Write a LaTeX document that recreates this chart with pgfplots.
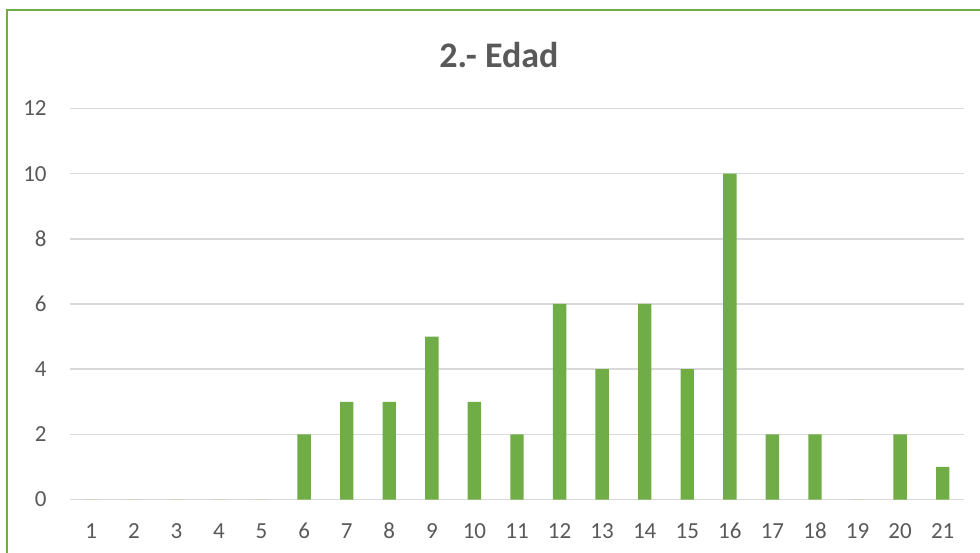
\documentclass[border=0pt]{standalone}
\usepackage{pgfplots}
\pgfplotsset{compat=1.18}
\usepackage{fontspec}
\setmainfont{Carlito}
\definecolor{bargreen}{HTML}{70AD47}
\definecolor{gridgray}{HTML}{D9D9D9}
\definecolor{txtgray}{HTML}{595959}
\begin{document}
\begin{tikzpicture}
\useasboundingbox (0,0) rectangle (490pt,276pt);
\clip (0,0) rectangle (490pt,276pt);
\draw[bargreen, line width=1.1pt] (3.3pt,-10pt) rectangle (500pt,271pt);
\begin{axis}[
  at={(35pt,26.25pt)}, anchor=origin,
  scale only axis,
  width=447pt, height=195.5pt,
  xmin=0.5, xmax=21.5, ymin=0, ymax=12,
  ybar, bar width=6.7pt,
  axis line style={draw=none},
  major tick length=0pt,
  xtick={1,...,21}, ytick={0,2,...,12},
  ymajorgrids, grid style={gridgray, line width=0.75pt},
  tick label style={font=\fontsize{11.5}{13}\selectfont, text=txtgray, inner sep=0pt},
  /pgf/number format/assume math mode=true,
  xticklabel style={anchor=base, yshift=-19.25pt},
  yticklabel style={anchor=east, xshift=-11.5pt},
  clip=false,
]
\addplot[fill=bargreen, draw=none] coordinates {
(1,0) (2,0) (3,0) (4,0) (5,0) (6,2) (7,3) (8,3) (9,5) (10,3) (11,2)
(12,6) (13,4) (14,6) (15,4) (16,10) (17,2) (18,2) (19,0) (20,2) (21,1)};
\end{axis}
\node[text=txtgray, font=\fontsize{18}{22}\selectfont\bfseries] at (249.5pt,248.5pt) {2.- Edad};
\end{tikzpicture}
\end{document}
